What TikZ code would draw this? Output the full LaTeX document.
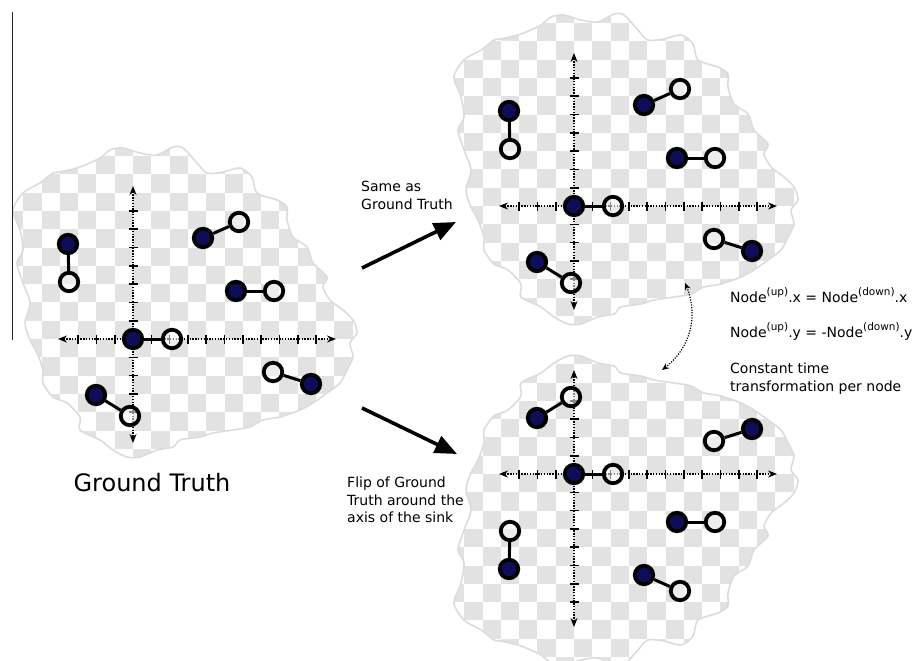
\documentclass[tikz,border=0pt]{standalone}
\usepackage{fontspec}
\setmainfont{DejaVu Sans}
\usetikzlibrary{arrows.meta,bending}
\definecolor{navy}{RGB}{14,14,88}
\definecolor{checkgray}{RGB}{226,226,226}
\definecolor{blobline}{RGB}{220,220,220}
\definecolor{openfill}{RGB}{245,245,245}
\tikzset{
  fnode/.style={circle, draw=black, line width=3.8pt, fill=navy, minimum size=18.5pt, inner sep=0pt},
  onode/.style={circle, draw=black, line width=3.8pt, fill=openfill, fill opacity=0.55, minimum size=18.5pt, inner sep=0pt},
  link/.style={line width=3pt, draw=black},
  axisline/.style={line width=1.4pt, dash pattern=on 1.4pt off 1.4pt, {Stealth[length=9pt,width=7pt]}-{Stealth[length=9pt,width=7pt]}},
  tickline/.style={line width=1.6pt},
  bigarrow/.style={line width=3.6pt, -{Triangle[length=22pt,width=18pt]}},
  txt/.style={font=\fontsize{14}{17.5}\selectfont, align=left, inner sep=0pt},
}
\newcommand\sbup[1]{\raisebox{7pt}{\fontsize{10.5}{10.5}\selectfont #1}}
\newcommand\blobshape[1]{\path[#1] plot[smooth cycle, tension=0.5] coordinates {(-23,-189) (-10,-191) (7,-186) (24,-184) (40,-192) (50,-191) (64,-176) (74,-166) (90,-167) (107,-171) (119,-162) (124,-146) (144,-139) (154,-132) (154,-119) (160,-102) (174,-92) (180,-76) (194,-62) (190,-52) (197,-39) (210,-29) (220,-19) (224,-6) (217,4) (220,18) (214,31) (207,44) (194,54) (180,64) (167,71) (147,78) (130,81) (117,88) (100,91) (80,94) (67,98) (47,101) (40,108) (24,111) (7,118) (-6,118) (-20,111) (-33,101) (-53,91) (-53,78) (-66,64) (-80,58) (-90,44) (-90,31) (-96,14) (-103,1) (-108,-16) (-103,-36) (-110,-56) (-116,-76) (-110,-89) (-113,-109) (-120,-129) (-110,-146) (-93,-156) (-80,-166) (-73,-167) (-53,-172) (-33,-181)};}
\newcommand\gtblob[1]{%
  \begin{scope}
    \blobshape{clip}
    \foreach \i in {-8,...,12}{\foreach \j in {-11,...,6}{%
      \pgfmathtruncatemacro\kk{\i+\j+100}%
      \ifodd\kk\else\fill[checkgray] (\i*18.3,\j*18.3) rectangle ++(18.3,18.3);\fi}}
  \end{scope}
  \blobshape{draw=blobline, line width=1.6pt}
  \coordinate (#1xl) at (-75,0);
  \coordinate (#1xr) at (203,0);
  \coordinate (#1yt) at (0,-153);
  \coordinate (#1yb) at (0,104);
  \draw[axisline] (#1xl) -- (#1xr);
  \draw[axisline] (#1yt) -- (#1yb);
  \foreach \k in {-3,-2,-1,1,2,...,10}{\draw[tickline] (\k*18.3,-4.5) -- (\k*18.3,4.5);}
  \foreach \k in {-7,...,-1,1,2,3,4}{\draw[tickline] (-4.5,\k*18.3) -- (4.5,\k*18.3);}
  \node[onode] (#1Oo) at (39,0) {};
  \node[fnode] (#1O) at (0,0) {};
  \node[fnode] (#1A) at (-65,-95) {};
  \node[onode] (#1Ao) at (-64,-57) {};
  \node[fnode] (#1B) at (70,-101) {};
  \node[onode] (#1Bo) at (106,-117) {};
  \node[fnode] (#1C) at (103,-48) {};
  \node[onode] (#1Co) at (141,-48) {};
  \node[onode] (#1Do) at (140,33) {};
  \node[fnode] (#1D) at (178,45) {};
  \node[fnode] (#1E) at (-37,56) {};
  \node[onode] (#1Eo) at (-3,77) {};
  \draw[link] (#1O) -- (#1Oo);
  \draw[link] (#1A) -- (#1Ao);
  \draw[link] (#1B) -- (#1Bo);
  \draw[link] (#1C) -- (#1Co);
  \draw[link] (#1D) -- (#1Do);
  \draw[link] (#1E) -- (#1Eo);
}
\begin{document}
\begin{tikzpicture}[x=1pt,y=-1pt]
\useasboundingbox (0,0) rectangle (921,661);
\fill[white] (0,0) rectangle (921,661);
\begin{scope}[shift={(133,339)}]\gtblob{L}\end{scope}
\begin{scope}[shift={(574,206)}]\gtblob{U}\end{scope}
\begin{scope}[shift={(574,474)},yscale=-1]\gtblob{D}\end{scope}
% thin vertical line
\coordinate (v1) at (12,12);
\coordinate (v2) at (12,340);
\draw[line width=1pt, black!85] (v1) -- (v2);
% labels
\node[font=\fontsize{24}{28}\selectfont] (gt) at (152,483) {Ground Truth};
\node[txt, anchor=north west] (same) at (361,181) {Same as\\Ground Truth};
\node[txt, anchor=north west] (flip) at (347,477) {Flip of Ground\\Truth around the\\axis of the sink};
\node[txt, anchor=base west] (eq1) at (730,302) {Node\sbup{(up)}.x = Node\sbup{(down)}.x};
\node[txt, anchor=base west] (eq2) at (730,337) {Node\sbup{(up)}.y = -Node\sbup{(down)}.y};
\node[txt, anchor=north west] (const) at (730,363) {Constant time\\transformation per node};
% big arrows
\coordinate (a1s) at (362,268);
\coordinate (a1e) at (456,222);
\coordinate (a2s) at (362,408);
\coordinate (a2e) at (457,454);
\draw[bigarrow] (a1s) -- (a1e);
\draw[bigarrow] (a2s) -- (a2e);
% curved dotted double arrow
\coordinate (cu) at (685,283);
\coordinate (cd) at (662,370);
\draw[line width=1.2pt, dash pattern=on 1.2pt off 1.4pt, {Stealth[length=7pt,width=6pt]}-{Stealth[length=7pt,width=6pt]}] (cu) to[bend left=40] (cd);
\end{tikzpicture}
\end{document}
